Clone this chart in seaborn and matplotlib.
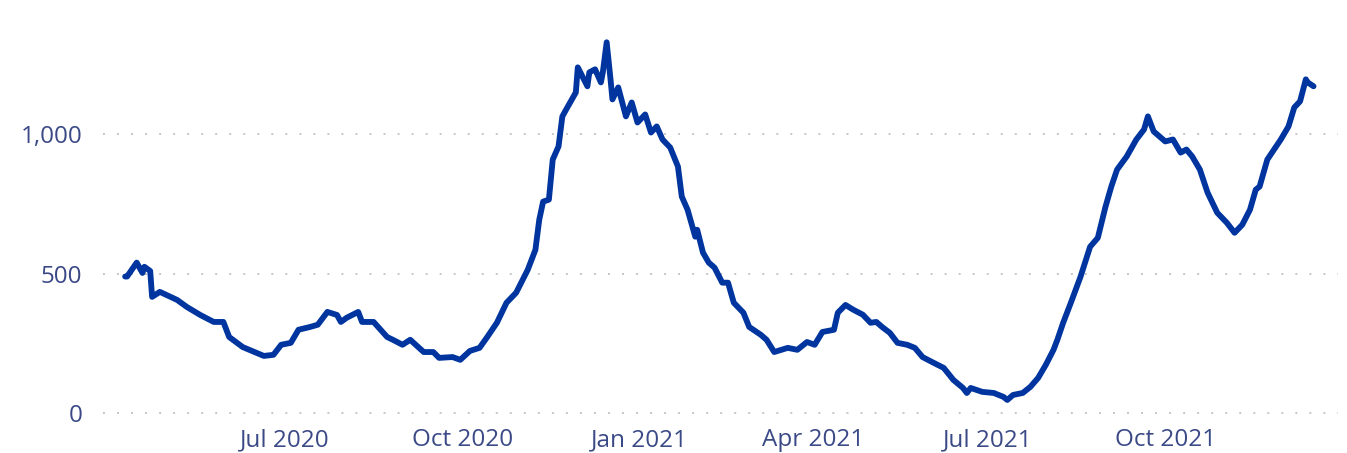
import numpy as np
import pandas as pd
import matplotlib
matplotlib.use("Agg")
import matplotlib.pyplot as plt
import matplotlib.dates as mdates
from matplotlib.ticker import FuncFormatter
import seaborn as sns

# ---- data (days after 2020-07-01, value) ----
base_date = "2020-07-01"
day_offset = [-83, -82, -77, -74, -73, -70, -69, -65, -56, -51, -44, -37, -32, -29,
              -22, -11, -6, -2, 3, 7, 13, 17, 22, 27, 29, 32, 38, 40, 46, 53, 56,
              61, 65, 72, 77, 80, 87, 91, 96, 101, 105, 110,
              115, 120, 126, 130, 132, 134, 137, 139, 142, 144, 146, 151, 152,
              157, 158, 161, 164, 165, 167, 169, 170, 173, 177, 180, 183, 187,
              190, 193, 196, 200, 204, 206, 209, 213, 214, 217, 220, 223, 227,
              230, 233, 238, 241, 247, 250, 254,
              261, 266, 271, 275, 279, 285, 287, 291, 295, 300, 304, 307, 310,
              314, 318, 323, 327, 331, 336, 342, 347, 352, 354, 356, 362, 368,
              373, 375, 378, 383, 387, 391, 395, 399, 401, 404, 408,
              413, 418, 422, 426, 429, 432, 437, 442, 446, 448, 451, 457, 461,
              465, 468, 471, 475, 479, 484, 489, 493, 497, 501, 504, 506, 510,
              517, 521, 524, 527, 530, 531, 534]
values = [490, 490, 540, 503, 525, 510, 417, 435, 406, 381, 352, 327, 327, 273,
          237, 205, 209, 245, 252, 299, 309, 317, 363, 352, 327, 342, 363, 327,
          327, 273, 263, 245, 263, 219, 219, 198, 201, 191, 223, 234, 273, 324,
          396, 432, 514, 586, 694, 759, 766, 910, 957, 1065, 1090, 1151, 1241,
          1173, 1223, 1234, 1187, 1223, 1331, 1198, 1126, 1169, 1065, 1115,
          1043, 1072, 1007, 1029, 982, 953, 885, 777, 730, 633, 658, 576, 540,
          522, 468, 468, 396, 360, 309, 281, 263, 219,
          234, 227, 255, 245, 291, 299, 360, 388, 371, 353, 324, 327, 309,
          288, 252, 245, 234, 201, 183, 162, 119, 90, 72, 90, 76, 72,
          58, 47, 65, 72, 94, 126, 173, 227, 263, 324, 396,
          489, 597, 629, 741, 813, 874, 921, 982, 1018, 1065, 1011, 975, 982,
          935, 946, 921, 874, 791, 719, 683, 647, 676, 730, 802, 813, 910,
          982, 1029, 1097, 1119, 1198, 1187, 1173]
x_ticks = ["2020-07-01", "2020-10-01", "2021-01-01", "2021-04-01", "2021-07-01", "2021-10-01"]
y_ticks = [0, 500, 1000]

df = pd.DataFrame({
    "date": pd.Timestamp(base_date) + pd.to_timedelta(day_offset, unit="D"),
    "value": values,
})

sns.set_theme(style="white")
plt.rcParams["font.family"] = ["Open Sans", "DejaVu Sans"]
plt.rcParams["lines.scale_dashes"] = False

W, H = 1347, 453
fig = plt.figure(figsize=(W / 100, H / 100), dpi=100)
left, right, top, bottom = 103, 1338, 20, 420
ax = fig.add_axes([left / W, 1 - bottom / H, (right - left) / W, (bottom - top) / H])

line_color = "#00359f"
text_color = "#3b4a87"

sns.lineplot(data=df, x="date", y="value", ax=ax, color=line_color,
             linewidth=4.2, solid_joinstyle="round", solid_capstyle="round")

x0 = pd.Timestamp(base_date) + pd.Timedelta(days=-94.5)
x1 = pd.Timestamp(base_date) + pd.Timedelta(days=546.7)
ax.set_xlim(x0, x1)
ax.set_ylim(-25, 1411)

for yv in y_ticks:
    ax.axhline(yv, color="#c6c6c6", linewidth=1.4, linestyle=(0, (1.4, 8.7)), zorder=0)

ax.set_yticks(y_ticks)
ax.yaxis.set_major_formatter(FuncFormatter(lambda v, p: f"{int(v):,}"))
ax.set_xticks(pd.to_datetime(x_ticks))
ax.xaxis.set_major_formatter(mdates.DateFormatter("%b %Y"))

ax.tick_params(axis="both", length=0, labelsize=17.5, colors=text_color)
ax.tick_params(axis="y", pad=15)
ax.tick_params(axis="x", pad=6)
ax.set_xlabel("")
ax.set_ylabel("")
for s in ax.spines.values():
    s.set_visible(False)
ax.grid(False)

fig.savefig("out.png", dpi=100, facecolor="white")
